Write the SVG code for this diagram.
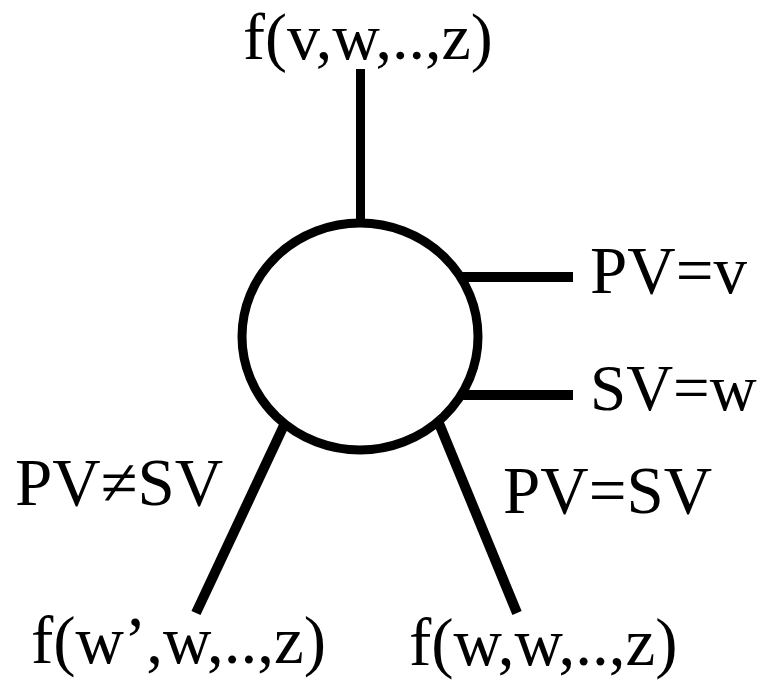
<svg xmlns="http://www.w3.org/2000/svg" width="760" height="680" viewBox="0 0 760 680">
<style>
.edge{stroke:#000;stroke-width:10;fill:none;stroke-linecap:butt}
.node{stroke:#000;stroke-width:9;fill:#fff}
.lbl{font-family:"Liberation Serif","Times New Roman",serif;font-size:67px;fill:#000}
</style>
<rect width="760" height="680" fill="#fff"/>
<g id="connectors">
<line class="edge" x1="360.5" y1="69" x2="360.5" y2="224" style="stroke-width:9"/>
<line class="edge" x1="458" y1="277" x2="573" y2="277"/>
<line class="edge" x1="458" y1="395" x2="573" y2="395"/>
<line class="edge" x1="286" y1="421" x2="196" y2="613"/>
<line class="edge" x1="438" y1="421" x2="517" y2="613"/>
</g>
<g id="node-center">
<ellipse class="node" cx="360" cy="336.5" rx="118" ry="113.5"/>
</g>
<g id="label-top"><text class="lbl" x="243" y="59" style="font-size:66px">f(v,w,..,z)</text></g>
<g id="label-pv"><text class="lbl" x="590" y="293">PV=v</text></g>
<g id="label-sv"><text class="lbl" x="590" y="410" style="font-size:65px">SV=w</text></g>
<g id="label-neq"><text class="lbl" x="15" y="505">PV≠SV</text></g>
<g id="label-eq"><text class="lbl" x="503" y="513">PV=SV</text></g>
<g id="label-bl"><text class="lbl" x="31" y="663">f(w’,w,..,z)</text></g>
<g id="label-br"><text class="lbl" x="409" y="665">f(w,w,..,z)</text></g>
</svg>
